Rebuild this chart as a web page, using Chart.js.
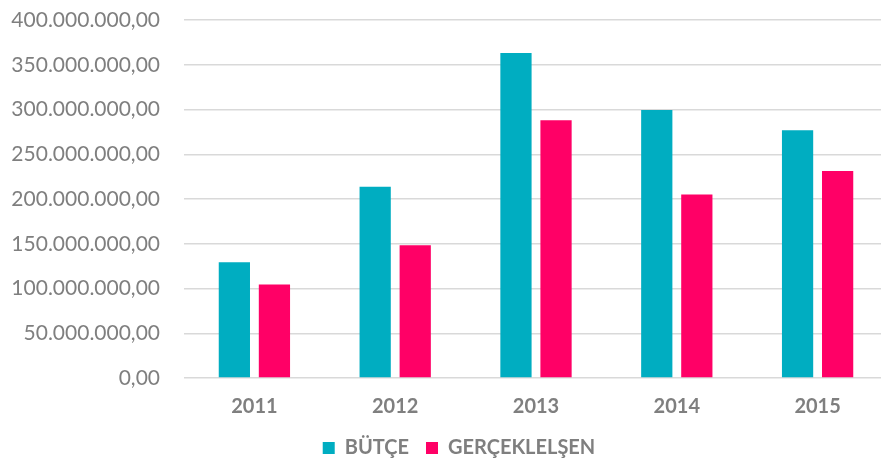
<!DOCTYPE html>
<html>
<head>
<meta charset="utf-8">
<script src="https://cdn.jsdelivr.net/npm/chart.js@4/dist/chart.umd.min.js"></script>
<style>
  html, body { margin: 0; padding: 0; background: #fff; overflow: hidden; }
  #wrap { width: 918px; height: 462px; }
</style>
</head>
<body>
<div id="wrap"><canvas id="myChart" width="918" height="462"></canvas></div>
<script>
// Yıllar ve seriler
const years = ['2011', '2012', '2013', '2014', '2015'];
const seriesNames = ['BÜTÇE', 'GERÇEKLELŞEN'];
const butce = [129300000, 213600000, 363200000, 299400000, 276700000];
const gerceklesen = [104400000, 148400000, 287900000, 205100000, 231200000];
const yTicks = [0, 50000000, 100000000, 150000000, 200000000, 250000000, 300000000, 350000000, 400000000];

const TEAL = '#00adc1';
const PINK = '#ff0066';
const GREY = '#7f7f7f';

// 400000000 -> "400.000.000,00"
function formatTR(v) {
  const int = Math.round(v).toString().replace(/\B(?=(\d{3})+(?!\d))/g, '.');
  return int + ',00';
}

// lejant yüksekliğini sabitle (padding yatay aralığı da belirliyor)
const legendHeight = {
  id: 'legendHeight',
  beforeLayout(chart) {
    const lg = chart.legend;
    if (lg && !lg._fixedHeight) {
      const fit = lg.fit.bind(lg);
      lg.fit = function () { fit(); this.height = 41; };
      lg._fixedHeight = true;
    }
  },
};

const ctx = document.getElementById('myChart').getContext('2d');

new Chart(ctx, {
  type: 'bar',
  data: {
    labels: years,
    datasets: [
      { label: seriesNames[0], data: butce, backgroundColor: TEAL },
      { label: seriesNames[1], data: gerceklesen, backgroundColor: PINK },
    ],
  },
  plugins: [legendHeight],
  options: {
    responsive: false,
    animation: false,
    categoryPercentage: 0.569,
    barPercentage: 0.78,
    layout: { padding: { top: 20, left: 0, right: 0, bottom: 0 } },
    plugins: {
      tooltip: { enabled: false },
      legend: {
        position: 'bottom',
        labels: {
          color: GREY,
          font: { family: 'Lato', size: 20, weight: 'bold' },
          boxWidth: 12,
          boxHeight: 12,
          padding: 17,
        },
      },
    },
    scales: {
      x: {
        afterFit: (axis) => { axis.height = 43; },
        grid: { display: false },
        border: { display: false },
        ticks: {
          color: GREY,
          padding: 9,
          maxRotation: 0,
          font: { family: 'Lato', size: 20, weight: 'bold' },
        },
      },
      y: {
        min: 0,
        max: 400000000,
        afterBuildTicks: (axis) => { axis.ticks = yTicks.map((v) => ({ value: v })); },
        afterFit: (axis) => {
          axis.width = 184;
          // üst/alt etiket taşması çizim alanını kaydırmasın
          axis.paddingTop = 0;
          axis.paddingBottom = 0;
        },
        grid: { color: '#d9d9d9', lineWidth: 1.5, drawTicks: false },
        border: { display: false },
        ticks: {
          color: GREY,
          padding: 24,
          font: { family: 'Lato', size: 21 },
          callback: (v) => formatTR(v),
        },
      },
      // boş sağ eksen: çizim alanını sağda biraz daraltır
      yRight: {
        position: 'right',
        display: true,
        grid: { display: false },
        border: { display: false },
        ticks: { display: false },
        afterFit: (axis) => {
          axis.width = 30;
          axis.paddingTop = 0;
          axis.paddingBottom = 0;
        },
      },
    },
  },
});
</script>
</body>
</html>
